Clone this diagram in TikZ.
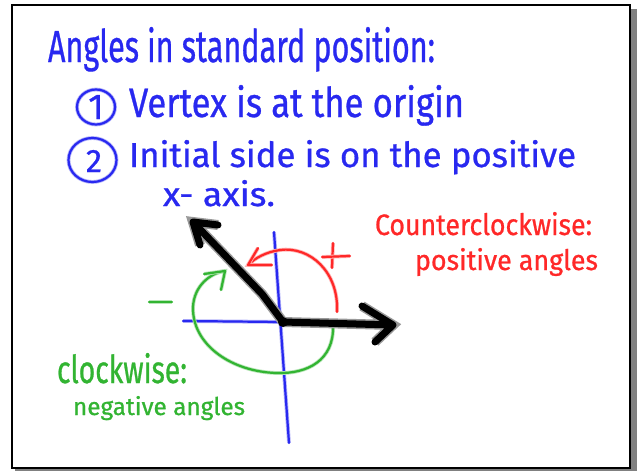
\documentclass[tikz,border=0pt]{standalone}
\usepackage{fontspec}
\setmainfont{Fira Sans}[FakeBold=0.8]
\usepackage{graphicx}
\definecolor{hblue}{RGB}{40,40,240}
\definecolor{hred}{RGB}{255,40,40}
\definecolor{hgreen}{RGB}{50,180,50}
\begin{document}
\begin{tikzpicture}[x=1pt,y=-1pt,
  txt/.style={anchor=base west, inner sep=0pt, outer sep=0pt},
  pen/.style={draw=#1, line width=2.2pt, line cap=round, line join=round, preaction={draw=#1!35, line width=3.8pt}},
  marker/.style={draw=black, line width=7pt, line cap=round, line join=round, preaction={draw=black!40, line width=10pt}}]
\useasboundingbox (0,0) rectangle (637,471);
% frame with shadow
\fill[black!50] (15,9) rectangle (637,471);
\filldraw[fill=white, draw=black, line width=2.5pt] (12,5) rectangle (630,468);

% texts
\node[txt, text=hblue] (title) at (48,62) {\resizebox{387pt}{35pt}{Angles in standard position:}};
\draw[pen=hblue] (96,107) ellipse [x radius=19, y radius=17.5];
\node[text=hblue, inner sep=0pt] (one) at (96,107) {\resizebox{!}{24pt}{1}};
\node[txt, text=hblue] (l1) at (129,117) {\resizebox{335pt}{32pt}{Vertex is at the origin}};
\draw[pen=hblue] (92.5,160) ellipse [x radius=24, y radius=22];
\node[text=hblue, inner sep=0pt] (two) at (94,161) {\resizebox{!}{22pt}{2}};
\node[txt, text=hblue] (l2) at (129,167) {\resizebox{447pt}{27pt}{Initial side is on the positive}};
\node[txt, text=hblue] (l3) at (163,206) {\resizebox{112pt}{26pt}{x- axis.}};

\node[txt, text=hred] (ccw) at (375,235) {\resizebox{217pt}{23pt}{Counterclockwise:}};
\node[txt, text=hred] (pos) at (415,270) {\resizebox{183pt}{22pt}{positive angles}};
\node[txt, text=hgreen] (cw) at (57,383) {\resizebox{130pt}{30pt}{clockwise:}};
\node[txt, text=hgreen] (neg) at (73,415) {\resizebox{172pt}{19pt}{negative angles}};

% axes
\coordinate (O) at (283,322);
\coordinate (xl) at (183,321);
\coordinate (yt) at (274,232);
\coordinate (yb) at (289,443);
\draw[pen=hblue] (xl) -- (O);
\draw[pen=hblue] (yt) -- (yb);

% red counterclockwise arc
\coordinate (rs) at (337,312);
\coordinate (rt) at (248,265);
\draw[pen=hred] (rs) .. controls (339,272) and (310,246) .. (280,250) .. controls (266,252) and (255,258) .. (rt);
\draw[pen=hred] (258,248) -- (rt) -- (272,265);
\draw[pen=hred] (333,243) -- (332,268);
\draw[pen=hred] (322,257) -- (350,256);

% green clockwise arc
\coordinate (gs) at (333,326);
\coordinate (gt) at (225,271);
\draw[pen=hgreen] (gs) .. controls (334,360) and (308,374) .. (277,373) .. controls (232,372) and (192,345) .. (193,307) .. controls (194,286) and (210,273) .. (gt);
\draw[pen=hgreen] (204,274) -- (gt) -- (221,290);
\draw[pen=hgreen] (149,302) -- (172,302);

% black rays
\coordinate (A) at (393,325);
\coordinate (B) at (193,222);
\draw[marker] (O) -- (A) (362,306) -- (A) -- (375,342);
\draw[marker] (O) -- (262,294) -- (B) (218,225) -- (B) -- (200,245);
\fill (O) circle (5);
\end{tikzpicture}
\end{document}
